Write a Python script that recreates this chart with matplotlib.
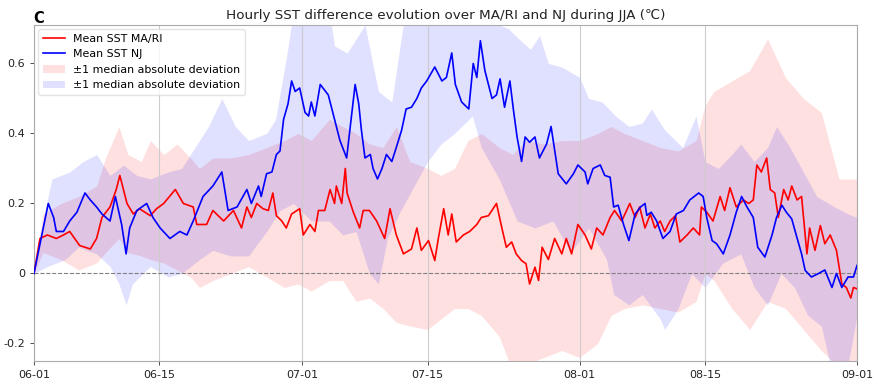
import matplotlib
matplotlib.use("Agg")
import matplotlib.pyplot as plt
import numpy as np

# ---- data (x = days since 06-01) ----
tick_days = [0, 14, 30, 44, 61, 75, 92]
tick_labels = ["06-01", "06-15", "07-01", "07-15", "08-01", "08-15", "09-01"]

mari_days = [0, 0.67, 1.5, 2.5, 3.3, 4.0, 5.1, 6.3, 7.0, 7.6, 8.5, 9.2, 9.6, 10.4, 11.1, 11.8,
             13.0, 13.7, 14.5, 15.8, 16.7, 17.8, 18.2, 19.3, 20.0, 21.2, 22.3, 23.2, 23.8, 24.3,
             24.9, 25.6, 26.2, 26.7, 27.1, 27.7, 28.2, 28.8, 29.4, 29.7, 30.1, 30.85, 31.4, 31.8,
             32.5, 33.1, 33.6, 33.8, 34.4, 34.8, 35.0, 35.7, 36.4, 36.8, 37.5, 38.3, 39.2, 39.8,
             40.5, 41.3, 42.2, 42.8, 43.3, 44.1, 44.8, 45.2, 45.8, 46.3, 46.7, 47.2, 48.0, 48.7,
             49.5, 50.0, 50.8, 51.7, 52.3, 52.8, 53.4, 53.9, 54.5, 55.0, 55.4, 56.0, 56.4, 56.8,
             57.5, 58.2, 59.0, 59.5, 60.1, 60.8, 61.6, 62.3, 62.9, 63.6, 64.4, 64.9, 65.7, 66.6,
             67.2, 67.7, 68.3, 68.9, 69.4, 70.0, 70.5, 71.1, 71.7, 72.2, 73.0, 73.7, 74.4, 74.6,
             75.2, 75.9, 76.7, 77.2, 77.8, 78.5, 79.3, 79.9, 80.4, 80.8, 81.3, 81.9, 82.3, 82.8,
             83.2, 83.8, 84.3, 84.7, 85.3, 85.8, 86.4, 86.7, 87.3, 87.9, 88.4, 89.0, 89.7, 90.3,
             90.8, 91.3, 91.6, 92.0]
mari_mean = [0.0, 0.10, 0.11, 0.10, 0.11, 0.12, 0.08, 0.07, 0.10, 0.16, 0.19, 0.24, 0.28, 0.20, 0.17, 0.185,
             0.165, 0.185, 0.20, 0.24, 0.20, 0.19, 0.14, 0.14, 0.18, 0.15, 0.18, 0.13, 0.19, 0.16,
             0.20, 0.185, 0.18, 0.23, 0.165, 0.15, 0.13, 0.17, 0.18, 0.185, 0.11, 0.14, 0.12, 0.18,
             0.18, 0.24, 0.20, 0.25, 0.20, 0.30, 0.23, 0.175, 0.13, 0.18, 0.18, 0.15, 0.10, 0.185,
             0.11, 0.056, 0.07, 0.13, 0.066, 0.094, 0.037, 0.10, 0.185, 0.11, 0.17, 0.09, 0.11, 0.12,
             0.14, 0.16, 0.165, 0.20, 0.13, 0.075, 0.09, 0.056, 0.037, 0.028, -0.03, 0.018, -0.02, 0.075,
             0.04, 0.10, 0.056, 0.10, 0.056, 0.14, 0.11, 0.07, 0.13, 0.11, 0.16, 0.18, 0.15, 0.20,
             0.16, 0.19, 0.13, 0.17, 0.13, 0.15, 0.12, 0.15, 0.165, 0.09, 0.11, 0.13, 0.11, 0.19,
             0.175, 0.15, 0.22, 0.18, 0.245, 0.19, 0.21, 0.20, 0.21, 0.31, 0.29, 0.33, 0.24, 0.23,
             0.16, 0.24, 0.21, 0.25, 0.21, 0.22, 0.056, 0.13, 0.066, 0.137, 0.085, 0.11, 0.066, -0.03,
             -0.04, -0.07, -0.04, -0.044]

nj_days = [0, 1.04, 1.6, 2.2, 2.5, 3.3, 4.0, 4.8, 5.7, 6.3, 7.0, 7.6, 8.5, 9.1, 9.8, 10.3, 10.7,
           11.5, 12.6, 13.3, 14.1, 15.2, 16.3, 17.1, 17.8, 18.9, 20.0, 21.0, 21.7, 22.7, 23.8,
           24.3, 25.1, 25.4, 26.0, 26.6, 27.1, 27.5, 27.9, 28.4, 28.8, 29.2, 29.7, 30.3, 30.7,
           31.0, 31.4, 32.0, 32.9, 33.5, 34.2, 34.95, 35.5, 35.9, 36.3, 36.6, 37.0, 37.6, 37.9,
           38.4, 38.9, 39.4, 40.0, 40.5, 41.1, 41.6, 42.2, 42.8, 43.3, 43.9, 44.8, 45.6, 46.1,
           46.7, 47.1, 47.8, 48.6, 49.1, 49.5, 49.9, 50.4, 51.2, 51.7, 52.1, 52.6, 53.2, 53.6,
           54.0, 54.5, 54.9, 55.4, 56.0, 56.5, 57.3, 57.8, 58.6, 59.5, 60.3, 60.8, 61.6, 61.9,
           62.5, 63.3, 63.8, 64.4, 64.8, 65.3, 65.9, 66.5, 67.2, 67.8, 68.3, 68.5, 69.0, 69.6,
           70.3, 71.1, 71.8, 72.6, 73.3, 74.3, 74.8, 75.2, 75.8, 76.3, 77.05, 77.8, 78.5, 79.1,
           79.7, 80.4, 80.9, 81.7, 82.5, 83.0, 83.6, 84.1, 84.7, 85.2, 85.8, 86.2, 86.9, 87.7,
           88.4, 89.2, 89.7, 90.3, 91.0, 91.6, 92.0]
nj_mean = [0.0, 0.13, 0.20, 0.16, 0.12, 0.12, 0.15, 0.175, 0.23, 0.21, 0.19, 0.17, 0.15, 0.22, 0.14, 0.056, 0.13,
           0.18, 0.20, 0.16, 0.13, 0.10, 0.12, 0.11, 0.15, 0.22, 0.25, 0.29, 0.18, 0.19, 0.24,
           0.20, 0.25, 0.22, 0.285, 0.29, 0.34, 0.35, 0.44, 0.485, 0.55, 0.52, 0.53, 0.46, 0.45,
           0.49, 0.45, 0.54, 0.51, 0.45, 0.38, 0.33, 0.45, 0.54, 0.485, 0.41, 0.33, 0.34, 0.30,
           0.27, 0.30, 0.34, 0.32, 0.36, 0.41, 0.47, 0.475, 0.50, 0.53, 0.55, 0.59, 0.55, 0.56,
           0.63, 0.54, 0.49, 0.47, 0.60, 0.56, 0.665, 0.58, 0.50, 0.51, 0.556, 0.475, 0.55, 0.466,
           0.39, 0.32, 0.39, 0.375, 0.39, 0.33, 0.37, 0.42, 0.285, 0.256, 0.285, 0.31, 0.29, 0.256,
           0.30, 0.31, 0.28, 0.275, 0.19, 0.195, 0.14, 0.094, 0.17, 0.19, 0.20, 0.166, 0.175, 0.15,
           0.10, 0.12, 0.17, 0.18, 0.21, 0.23, 0.22, 0.16, 0.094, 0.085, 0.056, 0.11, 0.175, 0.22,
           0.19, 0.16, 0.075, 0.047, 0.11, 0.16, 0.195, 0.175, 0.156, 0.11, 0.056, 0.009, -0.01, 0.0,
           0.01, -0.04, 0.0, -0.04, -0.01, -0.01, 0.023]

mari_band_days = [0, 1, 3, 5, 7, 8, 9.5, 10.5, 12, 13, 14.5, 16, 17.5, 18.5, 20, 22, 24, 26, 28, 29.5,
                  31, 33, 34.5, 36, 37.5, 39, 40.5, 42, 44, 45.5, 47, 48.5, 50, 52, 53.5, 55, 57, 59,
                  61, 63, 64.5, 66, 68, 70, 72, 74, 75, 76, 78, 80, 82, 84, 86, 88, 90, 92]
mari_upper = [0.0, 0.17, 0.20, 0.22, 0.25, 0.33, 0.42, 0.34, 0.32, 0.38, 0.34, 0.37, 0.33, 0.30, 0.33, 0.33,
              0.34, 0.36, 0.38, 0.40, 0.38, 0.44, 0.42, 0.40, 0.37, 0.36, 0.42, 0.32, 0.30, 0.28, 0.30,
              0.38, 0.40, 0.36, 0.34, 0.38, 0.37, 0.38, 0.38, 0.40, 0.42, 0.40, 0.38, 0.36, 0.35, 0.38,
              0.48, 0.52, 0.55, 0.58, 0.67, 0.56, 0.50, 0.46, 0.27, 0.27]
mari_lower = [0.0, 0.06, 0.04, 0.01, 0.03, 0.06, 0.10, 0.06, 0.05, 0.04, 0.03, 0.01, -0.01, -0.04, -0.02, 0.0,
              0.02, -0.01, -0.04, -0.03, -0.05, -0.02, -0.02, -0.08, -0.07, -0.10, -0.14, -0.15, -0.16, -0.13, -0.10,
              -0.10, -0.12, -0.18, -0.28, -0.26, -0.24, -0.22, -0.24, -0.20, -0.12, -0.10, -0.09, -0.10, -0.11, -0.08,
              0.00, -0.02, -0.10, -0.16, -0.08, -0.10, -0.16, -0.22, -0.27, -0.27]

nj_up_days = [0, 1, 2, 4, 5.5, 7, 8.5, 10, 11.5, 13, 15, 16.5, 18, 19.5, 21, 22.5, 24, 26, 27, 28.3,
              29, 33, 33.6, 35, 37, 38.5, 40, 41.5, 48, 53, 54, 55.5, 56.5, 57.5, 59, 61, 62, 63.5,
              65, 66.5, 68, 69, 70.5, 72.5, 74, 75, 76.5, 78, 79, 80.5, 82, 83, 84.5, 86, 87.5, 89.5,
              91, 92]
nj_upper = [0.0, 0.15, 0.27, 0.29, 0.32, 0.34, 0.28, 0.31, 0.28, 0.27, 0.29, 0.30, 0.36, 0.42, 0.50, 0.42,
            0.38, 0.40, 0.44, 0.63, 0.75, 0.75, 0.65, 0.63, 0.71, 0.52, 0.49, 0.75, 0.75, 0.70, 0.675, 0.64,
            0.68, 0.60, 0.59, 0.56, 0.50, 0.49, 0.45, 0.42, 0.43, 0.47, 0.41, 0.36, 0.45, 0.32, 0.30, 0.34,
            0.37, 0.32, 0.36, 0.42, 0.36, 0.29, 0.22, 0.19, 0.17, 0.16]

nj_lo_days = [0, 1.5, 3.5, 5, 7, 8.5, 9.5, 10.3, 11, 13, 15, 16.5, 18.5, 20, 22, 24, 26, 27.5, 29, 31,
              33, 34.5, 36, 37.5, 38.5, 39.5, 41, 42.5, 44, 45.5, 47, 49, 50, 52, 54, 56, 58, 60, 62,
              64, 64.8, 66.5, 68, 70, 70.5, 72, 73.5, 75, 77, 79, 80.5, 82, 83.5, 85, 86.5, 88, 89,
              91, 92]
nj_lower = [0.0, 0.02, 0.04, 0.075, 0.056, 0.02, -0.03, -0.09, -0.03, 0.02, -0.01, 0.0, 0.04, 0.066, 0.05,
            0.05, 0.12, 0.18, 0.20, 0.15, 0.15, 0.11, 0.12, 0.00, -0.03, 0.10, 0.18, 0.25, 0.32, 0.37, 0.40,
            0.45, 0.36, 0.27, 0.15, 0.13, 0.15, 0.06, 0.13, 0.04, -0.06, -0.09, -0.06, -0.13, -0.16, -0.10,
            0.0, -0.04, 0.03, 0.056, -0.04, -0.09, 0.0, -0.04, -0.12, -0.15, -0.26, -0.26, -0.12]

# ---- plot ----
fig = plt.figure(figsize=(8.82, 3.86), dpi=100)
ax = fig.add_axes([0.0385, 0.0648, 0.9332, 0.8705])

ax.fill_between(mari_band_days, mari_lower, mari_upper, color="red", alpha=0.12, linewidth=0,
                label="±1 median absolute deviation", zorder=1)
nj_grid = np.union1d(nj_up_days, nj_lo_days)
ax.fill_between(nj_grid, np.interp(nj_grid, nj_lo_days, nj_lower),
                np.interp(nj_grid, nj_up_days, nj_upper), color="blue", alpha=0.12, linewidth=0,
                label="±1 median absolute deviation", zorder=1)
ax.plot(mari_days, mari_mean, color="red", lw=1.2, label="Mean SST MA/RI", zorder=3)
ax.plot(nj_days, nj_mean, color="blue", lw=1.2, label="Mean SST NJ", zorder=3)

ax.axhline(0, color="gray", lw=0.8, ls="--", zorder=2)

ax.set_xlim(0, 92)
ax.set_ylim(-0.25, 0.71)
ax.set_xticks(tick_days)
ax.set_xticklabels(tick_labels)
ax.set_yticks([-0.2, 0, 0.2, 0.4, 0.6])
ax.set_yticklabels(["-0.2", "0", "0.2", "0.4", "0.6"])
ax.tick_params(labelsize=8, colors="#333333", length=3, width=0.6)
for lbl in ax.get_xticklabels() + ax.get_yticklabels():
    lbl.set_color("#222222")
ax.grid(axis="x", color="#cccccc", lw=0.8, zorder=0)
for s in ax.spines.values():
    s.set_color("#aaaaaa")
    s.set_linewidth(0.8)

handles, labels = ax.get_legend_handles_labels()
order = [2, 3, 0, 1]
ax.legend([handles[i] for i in order], [labels[i] for i in order], loc="upper left",
          fontsize=7.9, frameon=True, framealpha=0.8, edgecolor="#dddddd",
          borderaxespad=0.4, handlelength=2.0)

ax.set_title("Hourly SST difference evolution over MA/RI and NJ during JJA (℃)", fontsize=9.7,
             color="#222222", pad=4, family=["DejaVu Sans", "Noto Sans CJK SC"])
fig.text(0.038, 0.940, "C", fontsize=10.5, fontweight="bold", ha="left", va="baseline")

fig.savefig("out.png", dpi=100)
